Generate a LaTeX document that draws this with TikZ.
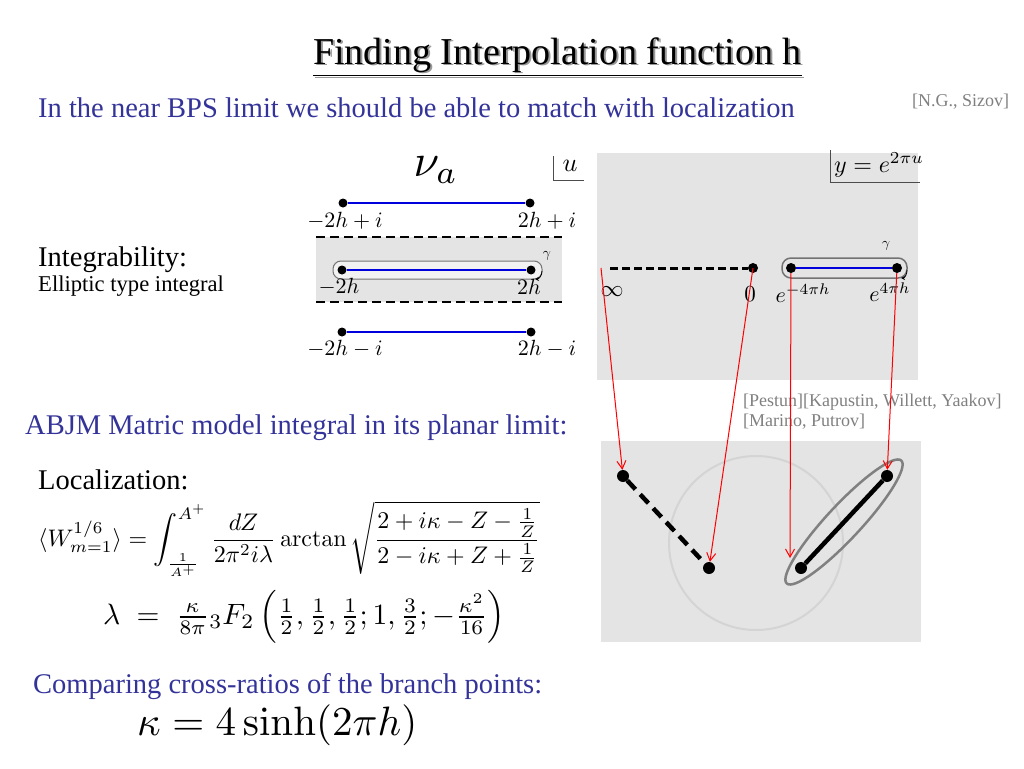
\documentclass[tikz,border=0pt]{standalone}
\usepackage{amsmath}
\usepackage{graphicx}
\usepackage[no-math]{fontspec}
\setmainfont{Liberation Serif}
\usetikzlibrary{arrows.meta,shapes.geometric}
\definecolor{slideblue}{RGB}{51,51,153}
\definecolor{citegray}{RGB}{128,128,128}
\definecolor{panel}{RGB}{228,228,228}
\definecolor{cutblue}{RGB}{0,0,220}
\newcommand{\mscale}[2]{\scalebox{#1}{$#2$}}
\begin{document}
\begin{tikzpicture}[x=1pt,y=-1pt,
  txt/.style={anchor=base west, inner sep=0pt, font=\fontsize{28.5}{34}\selectfont},
  bluetxt/.style={txt, text=slideblue},
  cite/.style={anchor=base west, inner sep=0pt, text=citegray, font=\fontsize{18}{22}\selectfont},
  dot/.style={circle, fill=black, inner sep=0pt, minimum size=9pt},
  bigdot/.style={circle, fill=black, inner sep=0pt, minimum size=12pt},
  cut/.style={line width=2.5pt, draw=cutblue},
  lbl/.style={inner sep=0pt},
  cutdash/.style={line width=2.2pt, dash pattern=on 9pt off 5pt},
  loopbox/.style={rounded corners=8pt, draw=black!55, fill=black!5, line width=1pt},
  redarrow/.style={draw=red, line width=1pt, -{Straight Barb[length=8pt,width=9pt]}}
]
\useasboundingbox[fill=white] (0,0) rectangle (1024,768);

% title
\node[anchor=base west, inner sep=0pt, text=black!40, font=\fontsize{38}{44}\selectfont] (titleshadow) at (315,66) {\underline{Finding Interpolation function h}};
\node[anchor=base west, inner sep=0pt, font=\fontsize{38}{44}\selectfont] (title) at (313,64) {\underline{Finding Interpolation function h}};

% texts
\node[bluetxt] (intro) at (38,117) {In the near BPS limit we should be able to match with localization};
\node[cite] (ng) at (912,106) {[N.G., Sizov]};
\node[txt] (integ) at (38,266) {Integrability:};
\node[txt, font=\fontsize{22.6}{26}\selectfont] (ell) at (38,291) {Elliptic type integral};
\node[bluetxt] (abjm) at (25,434) {ABJM Matric model integral in its planar limit:};
\node[txt] (loc) at (38,489) {Localization:};
\node[bluetxt] (comp) at (33,693) {Comparing cross-ratios of the branch points:};
\node[cite] (pest) at (743,406) {[Pestun][Kapustin, Willett, Yaakov]};
\node[cite] (mar) at (743,426) {[Marino, Putrov]};

% formulas
\node[anchor=west, inner sep=0pt] (wloop) at (38,539) {\resizebox{502pt}{!}{$\displaystyle \langle W^{1/6}_{m=1}\rangle = \int_{\frac{1}{A^+}}^{A^+} \frac{dZ}{2\pi^2 i\lambda}\arctan\sqrt{\frac{2+i\kappa-Z-\frac{1}{Z}}{2-i\kappa+Z+\frac{1}{Z}}}$}};
\node[anchor=west, inner sep=0pt] (lam) at (103,617) {\resizebox{402pt}{!}{$\lambda \;=\; \tfrac{\kappa}{8\pi}{}_3F_2\left(\tfrac12,\tfrac12,\tfrac12;1,\tfrac32;-\tfrac{\kappa^2}{16}\right)$}};
\node[anchor=west, inner sep=0pt] (kap) at (137,725) {\resizebox{280pt}{!}{$\kappa = 4\sinh(2\pi h)$}};

% panels
\fill[panel] (597,153) rectangle (918,380);
\fill[panel] (601,441) rectangle (921,642);
\fill[panel] (316,237) rectangle (562,302);

% left diagram (u plane)
\node[lbl] (nu) at (436,170) {\mscale{4.6}{\nu_a}};
\node[lbl] (ulab) at (570,166) {\mscale{2.6}{u}};
\draw[line width=0.8pt, black!70] (553,156) -- (553,180) -- (584,180);
\draw[cutdash] (316,237) -- (562,237);
\draw[cutdash] (316,302) -- (562,302);
\draw[loopbox] (333,261) rectangle (542,279);
\draw[-{Stealth[length=4pt,width=4pt]}, line width=0.8pt] (542,271) to[out=-90,in=0] (535,279);
\node[lbl] (gl) at (547,256) {\mscale{1.4}{\gamma}};

\node[dot] (a1) at (343,203) {};
\node[dot] (a2) at (530,203) {};
\draw[cut] (a1) -- (a2);
\node[dot] (b1) at (342,270) {};
\node[dot] (b2) at (531,270) {};
\draw[cut] (b1) -- (b2);
\node[dot] (c1) at (342,332) {};
\node[dot] (c2) at (531,332) {};
\draw[cut] (c1) -- (c2);

\node[lbl] (la1) at (345,221) {\mscale{2.2}{-2h+i}};
\node[lbl] (la2) at (547,221) {\mscale{2.2}{2h+i}};
\node[lbl] (lb1) at (339,287) {\mscale{2.2}{-2h}};
\node[lbl] (lb2) at (529,287) {\mscale{2.2}{2h}};
\node[lbl] (lc1) at (345,349) {\mscale{2.2}{-2h-i}};
\node[lbl] (lc2) at (547,349) {\mscale{2.2}{2h-i}};

% right top diagram (y plane)
\node[lbl] (ylab) at (879,165) {\mscale{2.4}{y=e^{2\pi u}}};
\draw[line width=0.8pt, black!70] (830,150) -- (830,182) -- (920,182);
\coordinate (inf) at (601,268);
\node[dot, minimum size=10pt] (zero) at (753,268) {};
\draw[line width=3pt, dash pattern=on 8pt off 4pt] (610,268) -- (zero);
\draw[rounded corners=9pt, draw=black!55, line width=1.5pt] (782,258) rectangle (907,278);
\draw[-{Stealth[length=4pt,width=4pt]}, line width=0.8pt] (907,270) to[out=-90,in=0] (901,278);
\node[dot, minimum size=10pt] (em) at (791,268) {};
\node[dot, minimum size=10pt] (ep) at (897,268) {};
\draw[cut] (em) -- (ep);
\node[lbl] (gr) at (886,246) {\mscale{1.4}{\gamma}};
\node[lbl] (linf) at (612,292) {\mscale{2.3}{\infty}};
\node[lbl] (lzero) at (750,294) {\mscale{2.3}{0}};
\node[lbl] (lem) at (803,293) {\mscale{2.2}{e^{-4\pi h}}};
\node[lbl] (lep) at (890,292) {\mscale{2.2}{e^{4\pi h}}};

% bottom right diagram
\node[circle, draw=black!17, line width=2pt, minimum size=174pt, inner sep=0pt] (disk) at (756,543) {};
\node[ellipse, draw=black!50, line width=2.5pt, minimum width=168pt, minimum height=34pt, inner sep=0pt, rotate=47] (loopb) at (844,522) {};
\node[bigdot] (p1) at (623,476) {};
\node[bigdot] (p2) at (709,568) {};
\node[bigdot] (p3) at (801,568) {};
\node[bigdot] (p4) at (887,476) {};
\draw[line width=4.5pt, dash pattern=on 12pt off 7pt] (p1) -- (p2);
\draw[line width=4.5pt] (p3) -- (p4);

% red maps
\coordinate (c3end) at (790,558);
\draw[redarrow] (inf) -- (p1);
\draw[redarrow] (zero.center) -- (p2);
\draw[redarrow] (em) -- (c3end);
\draw[redarrow] (ep) -- (p4);
\end{tikzpicture}
\end{document}
